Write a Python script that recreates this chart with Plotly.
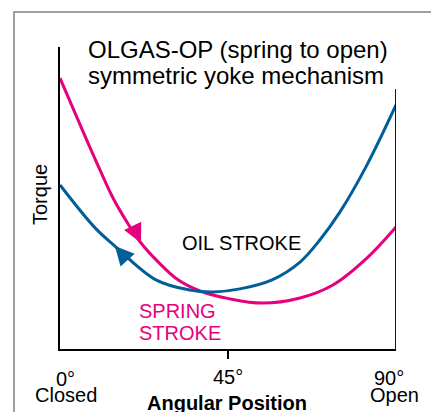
import plotly.graph_objects as go

# ---- data ----
spring_angle = [0, 5.4, 10.7, 14.2, 17.9, 21.7, 26.8, 31.6, 37.5, 45.5, 54.1, 64.3, 73.1, 82.2, 90]
spring_torque = [89.7, 74.2, 59.3, 50.0, 42.1, 35.1, 28.2, 22.9, 19.2, 16.6, 15.2, 16.9, 21.2, 30.1, 40.4]
spring_arrow_index = 5

oil_angle = [0, 9.4, 14.7, 25.7, 34.8, 41.0, 48.2, 56.8, 64.3, 69.6, 75.0, 82.2, 90]
oil_torque = [54.3, 40.1, 34.1, 22.9, 19.5, 18.9, 19.9, 22.9, 28.8, 36.1, 45.4, 60.9, 80.8]
oil_arrow_index = 2

tick_values = [45]
tick_labels = ["45°"]

PINK = "#E5007D"
BLUE = "#005E98"
FONT = "Liberation Sans"

fig = go.Figure()
fig.add_trace(go.Scatter(x=spring_angle, y=spring_torque, mode="lines",
                         line=dict(color=PINK, width=3, shape="spline", smoothing=1.0),
                         hoverinfo="skip", showlegend=False))
fig.add_trace(go.Scatter(x=oil_angle, y=oil_torque, mode="lines",
                         line=dict(color=BLUE, width=3, shape="spline", smoothing=1.0),
                         hoverinfo="skip", showlegend=False))
# arrow heads
fig.add_trace(go.Scatter(x=[spring_angle[spring_arrow_index]], y=[spring_torque[spring_arrow_index]],
                         mode="markers",
                         marker=dict(symbol="arrow-up", size=19, angle=154, color=PINK,
                                     line=dict(width=0)),
                         hoverinfo="skip", showlegend=False))
fig.add_trace(go.Scatter(x=[oil_angle[oil_arrow_index]], y=[oil_torque[oil_arrow_index]],
                         mode="markers",
                         marker=dict(symbol="arrow-up", size=19, angle=318, color=BLUE,
                                     line=dict(width=0)),
                         hoverinfo="skip", showlegend=False))

fig.update_xaxes(range=[0, 90], showgrid=False, zeroline=False, showline=True,
                 linecolor="black", linewidth=1.8, ticks="outside", tickvals=tick_values,
                 ticktext=[""], ticklen=8, tickwidth=1.5, tickcolor="black",
                 showticklabels=False, fixedrange=True)
fig.update_yaxes(range=[0, 100], showgrid=False, zeroline=False, showline=True,
                 linecolor="black", linewidth=1.8, showticklabels=False, ticks="",
                 fixedrange=True)

def px2p(x, y):
    return (x - 60) / 336, (349 - y) / 302

annotations = []
def ann(text, x, y, size=20, color="black", xanchor="center", bold=False, angle=0):
    xp, yp = px2p(x, y)
    annotations.append(dict(text=("<b>%s</b>" % text) if bold else text,
                            x=xp, y=yp, xref="paper", yref="paper",
                            xanchor=xanchor, yanchor="middle", showarrow=False,
                            textangle=angle,
                            font=dict(family=FONT, size=size, color=color)))

ann("OLGAS-OP (spring to open)", 86, 49, size=24, xanchor="left")
ann("symmetric yoke mechanism", 86, 75, size=24, xanchor="left")
ann("OIL STROKE", 180, 243, xanchor="left")
ann("SPRING", 137, 311, color=PINK, xanchor="left")
ann("STROKE", 137, 333, color=PINK, xanchor="left")
ann("0°", 65, 379)
ann("Closed", 65.5, 395)
ann(tick_labels[0], 228, 377)
ann("90°", 389, 378)
ann("Open", 394, 395)
ann("Angular Position", 227, 403, bold=True)
ann("Torque", 40, 195, angle=-90)

shapes = [
    # shorter right frame line
    dict(type="line", xref="x", yref="paper", x0=90, x1=90, y0=0, y1=(349 - 89) / 302,
         line=dict(color="black", width=1.8)),
    # outer grey border
    dict(type="rect", xref="paper", yref="paper",
         x0=(14 - 60) / 336, x1=(437 - 60) / 336, y0=(349 - 430) / 302, y1=(349 - 12) / 302,
         line=dict(color="#808080", width=1.5)),
]

# page body has an 8px margin, so the figure is 8px smaller and its margins shifted
fig.update_layout(width=431, height=404, margin=dict(l=52, r=43, t=39, b=63),
                  paper_bgcolor="white", plot_bgcolor="white",
                  annotations=annotations, shapes=shapes,
                  font=dict(family=FONT))

fig.write_html("out.html")
